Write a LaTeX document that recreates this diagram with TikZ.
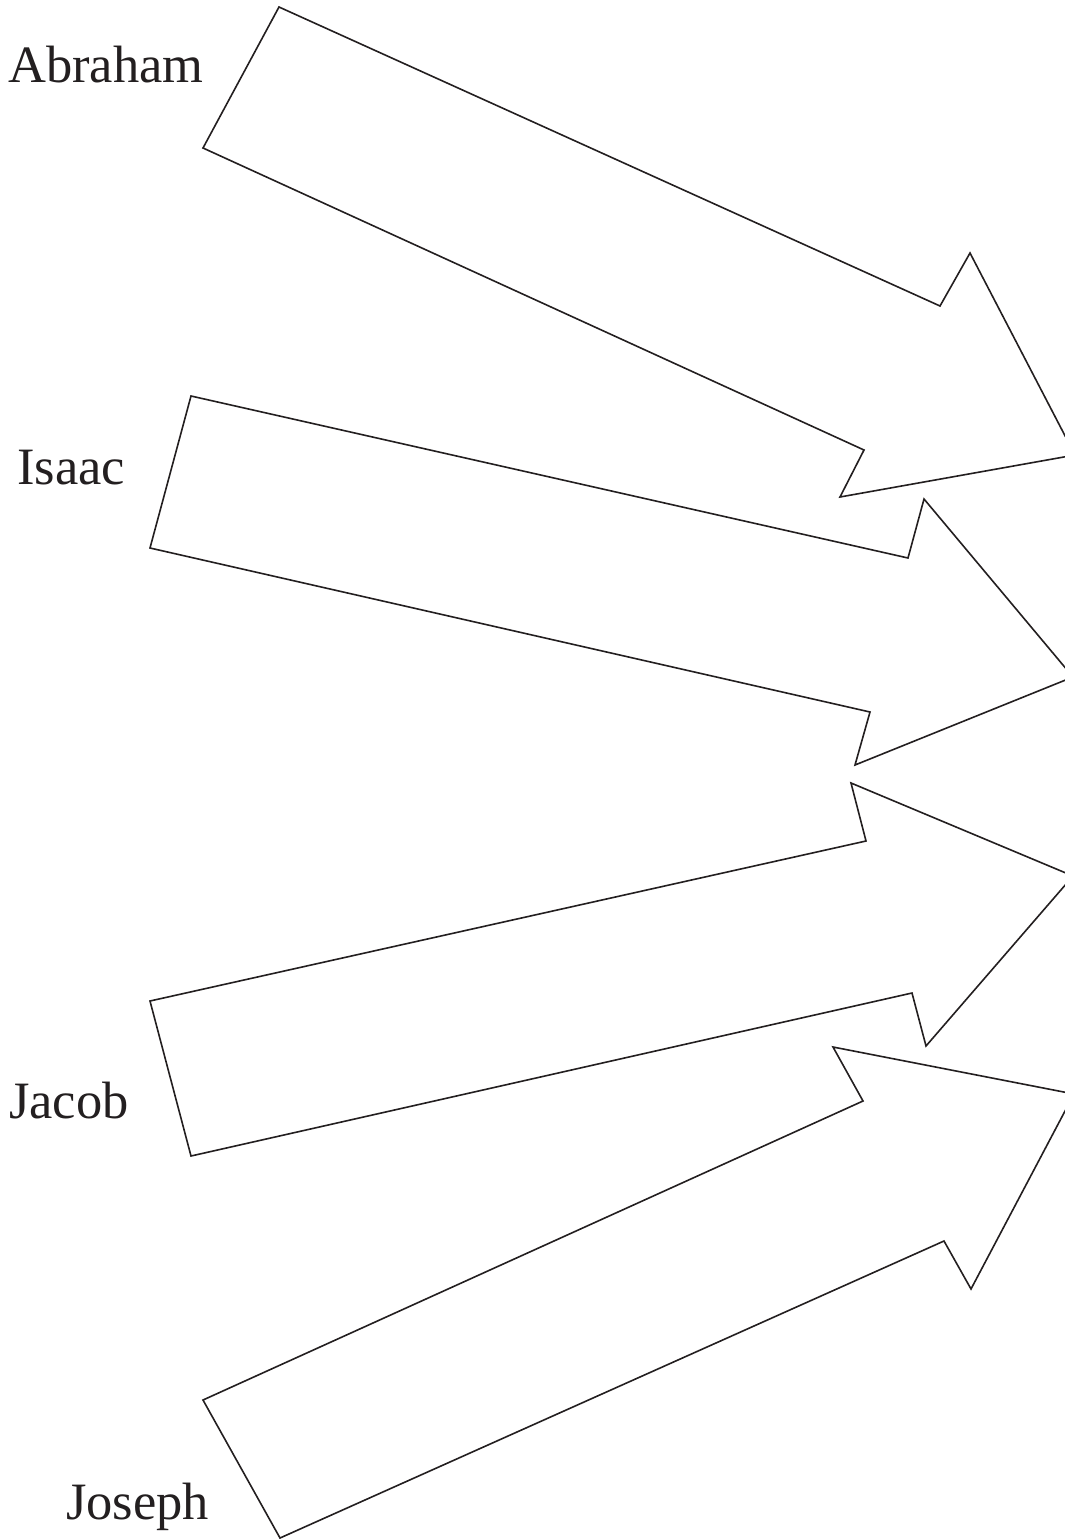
\documentclass[tikz,border=0pt]{standalone}
\usepackage{fontspec}
\setmainfont{Liberation Serif}
\usepackage{xcolor}
\definecolor{ink}{HTML}{231F20}

\begin{document}
\begin{tikzpicture}[x=1pt,y=-1pt,
  patriarch/.style={font=\fontsize{52.5}{60}\selectfont, text=ink, anchor=base west, inner sep=0pt},
  bigarrow/.style={draw=ink, line width=1.6pt, line join=miter}]
  \useasboundingbox (0,0) rectangle (1065,1539);
  \clip (0,0) rectangle (1065,1539);

  \node[patriarch] (abraham) at (8,82) {Abraham};
  \node[patriarch] (isaac) at (17,484) {Isaac};
  \node[patriarch] (jacob) at (9,1118) {Jacob};
  \node[patriarch] (joseph) at (66,1519) {Joseph};

  \draw[bigarrow] (279,7) -- (940,306) -- (970,253) -- (1075,455) -- (840,497) -- (864,450) -- (203,148) -- cycle;
  \draw[bigarrow] (191,396) -- (908,558) -- (924,499) -- (1073,677) -- (855,765) -- (870,712) -- (150,548) -- cycle;
  \draw[bigarrow] (150,1001) -- (866,841) -- (851,783) -- (1073,876) -- (926,1046) -- (912,993) -- (191,1156) -- cycle;
  \draw[bigarrow] (203,1400) -- (863,1101) -- (833,1047) -- (1074,1094) -- (971,1289) -- (944,1241) -- (280,1538) -- cycle;
 \end{tikzpicture}
\end{document}
